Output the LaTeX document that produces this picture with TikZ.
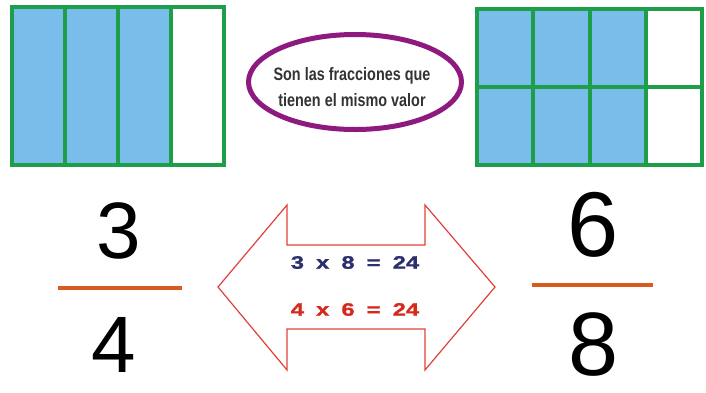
\documentclass[tikz,border=0pt]{standalone}
\usepackage{fontspec}
\setmainfont{Liberation Sans}
\newfontfamily\narrowfont[FakeStretch=0.8]{Liberation Sans}
\newfontfamily\widefont[FakeStretch=1.32, FakeBold=1.2]{Liberation Sans Bold}
\definecolor{gridgreen}{HTML}{1E9E48}
\definecolor{cellblue}{HTML}{79BDEA}
\definecolor{ovalpurple}{HTML}{8E1A80}
\definecolor{arrowred}{HTML}{E0403A}
\definecolor{barorange}{HTML}{D95A1E}
\definecolor{eqnavy}{HTML}{2B2F6E}
\definecolor{eqred}{HTML}{D42A1E}
\newcommand{\gap}{\hspace{5.5pt}}
\tikzset{
  grid/.style={draw=gridgreen, line width=4pt},
  cell/.style={fill=cellblue},
  oval/.style={draw=ovalpurple, line width=5pt},
  twoway/.style={draw=arrowred, line width=1.2pt, line join=miter},
  bar/.style={draw=barorange, line width=4pt},
  digit/.style={inner sep=0pt, text=black},
  eqn/.style={inner sep=0pt, font=\widefont\fontsize{18}{18}\selectfont},
  note/.style={inner sep=0pt, anchor=base, text=black!80, font=\narrowfont\bfseries\fontsize{18}{18}\selectfont},
}
\begin{document}
\begin{tikzpicture}[x=1pt, y=-1pt]
  \useasboundingbox (0,0) rectangle (706,392);

  % Left model: three of four
  \foreach \i in {0,1,2} {
    \fill[cell] ({12+53*\i},7) rectangle ({65+53*\i},165);
  }
  \draw[grid] (12,7) rectangle (224,165);
  \foreach \i in {1,2,3} {
    \draw[grid] ({12+53*\i},7) -- ({12+53*\i},165);
  }

  % Right model: six of eight
  \foreach \i in {0,1,2} {
    \fill[cell] ({477+56.25*\i},9) rectangle ({533.25+56.25*\i},165);
  }
  \draw[grid] (477,9) rectangle (702,165);
  \foreach \i in {1,2,3} {
    \draw[grid] ({477+56.25*\i},9) -- ({477+56.25*\i},165);
  }
  \draw[grid] (477,87) -- (702,87);

  % Oval note
  \draw[oval] (355,82) ellipse [x radius=106.5, y radius=47.5];
  \node[note] (line1) at (352,80) {Son las fracciones que};
  \node[note] (line2) at (352,106) {tienen el mismo valor};

  % Fractions
  \node[digit, font=\fontsize{80}{80}\selectfont] (numl) at (119,231) {3};
  \node[digit, font=\fontsize{80}{80}\selectfont] (denl) at (114,345) {4};
  \draw[bar] (58,288) -- (182,288);
  \node[digit, font=\fontsize{92}{92}\selectfont] (numr) at (593,225) {6};
  \node[digit, font=\fontsize{90}{90}\selectfont] (denr) at (594,345) {8};
  \draw[bar] (532,285) -- (653,285);

  % Double arrow with products
  \draw[twoway] (218,287) -- (287,205) -- (287,245) -- (425,245) -- (425,205)
    -- (495,287) -- (425,370) -- (425,329) -- (287,329) -- (287,370) -- cycle;
  \node[eqn, text=eqnavy] (prodA) at (355,262.5) {3 \gap x \gap 8 \gap = \gap 24};
  \node[eqn, text=eqred] (prodB) at (355,309.5) {4 \gap x \gap 6 \gap = \gap 24};
\end{tikzpicture}
\end{document}
